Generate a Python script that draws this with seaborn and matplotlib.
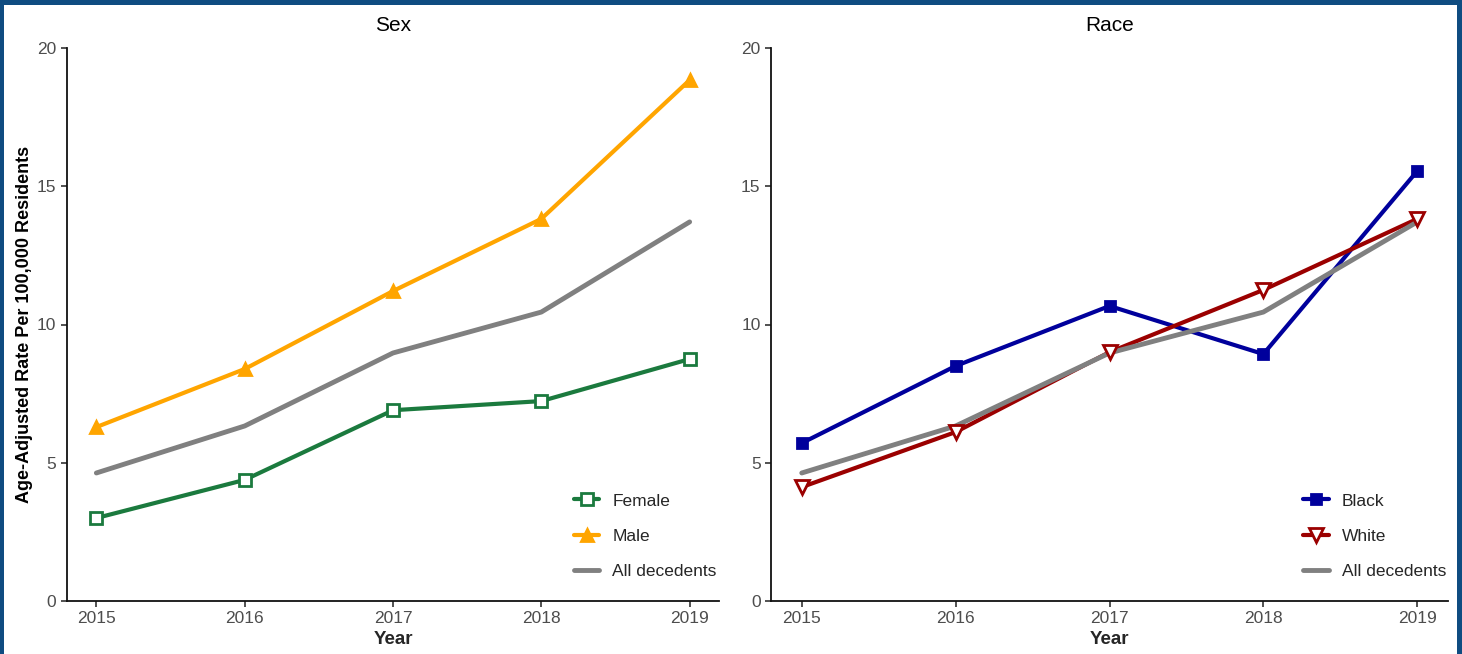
import matplotlib
matplotlib.use("Agg")
import matplotlib.pyplot as plt
import numpy as np
import pandas as pd
import seaborn as sns
from matplotlib.lines import Line2D

# data
years = [2015, 2016, 2017, 2018, 2019]
all_decedents = [4.63, 6.33, 8.97, 10.45, 13.71]
female = [3.0, 4.38, 6.9, 7.23, 8.75]
male = [6.29, 8.39, 11.21, 13.82, 18.84]
black = [5.71, 8.5, 10.67, 8.93, 15.55]
white = [4.12, 6.11, 9.0, 11.25, 13.82]

sns.set_theme(style="ticks")
plt.rcParams["font.family"] = ["Liberation Sans", "DejaVu Sans"]

GREY = "#808080"
TICK_GREY = "#4d4d4d"

fig = plt.figure(figsize=(14.62, 6.54), dpi=100)
W, H = 1462, 654
ax1 = fig.add_axes([66.7 / W, 1 - 601 / H, (719.3 - 66.7) / W, (601 - 48) / H])
ax2 = fig.add_axes([771 / W, 1 - 601 / H, (1448 - 771) / W, (601 - 48) / H])

# panel specs: (label, values, colour, marker, size, facecolour)
panels = [
    (ax1, "Sex", [
        ("Female", female, "#1b7a3e", "s", 8, "white"),
        ("Male", male, "#FFA500", "^", 9, "#FFA500"),
    ]),
    (ax2, "Race", [
        ("Black", black, "#00009c", "s", 7.5, "#00009c"),
        ("White", white, "#9b0000", "v", 10.5, "white"),
    ]),
]

for ax, title, series in panels:
    handles = []
    for name, vals, col, mk, ms, fc in series:
        df = pd.DataFrame({"Year": years, "Rate": vals})
        sns.lineplot(data=df, x="Year", y="Rate", ax=ax, color=col, lw=3, zorder=2)
        ax.plot(years, vals, ls="none", marker=mk, ms=ms, mfc=fc, mec=col, mew=2, zorder=4)
        handles.append(Line2D([], [], color=col, lw=3, marker=mk, ms=ms, mfc=fc, mec=col, mew=2, label=name))
    df_all = pd.DataFrame({"Year": years, "Rate": all_decedents})
    sns.lineplot(data=df_all, x="Year", y="Rate", ax=ax, color=GREY, lw=3.5, zorder=3)
    handles.append(Line2D([], [], color=GREY, lw=3.5, label="All decedents"))

    ax.set_xlim(2014.8, 2019.2)
    ax.set_ylim(0, 20)
    ax.set_xticks(years)
    ax.set_yticks([0, 5, 10, 15, 20])
    ax.tick_params(axis="both", colors="#333333", labelcolor=TICK_GREY, labelsize=12.5,
                   length=4, width=1.2, direction="out")
    for s in ["left", "bottom"]:
        ax.spines[s].set_linewidth(1.3)
        ax.spines[s].set_color("#111111")
    sns.despine(ax=ax)
    ax.set_title(title, fontsize=15, color="black", pad=12)
    ax.set_xlabel("Year", fontsize=13.5, fontweight="bold", labelpad=3)
    ax.set_ylabel("")
    ax.legend(handles=handles, loc="lower right", bbox_to_anchor=(1.02, 0.012), frameon=False,
              fontsize=12.5, handlelength=1.45, labelspacing=1.15, handletextpad=0.75)

ax1.set_ylabel("Age-Adjusted Rate Per 100,000 Residents", fontsize=13, fontweight="bold", color="black")
ax1.yaxis.set_label_coords(-0.052, 0.5)

# dark blue frame around the figure (top, left, right)
frame_col = "#0f4c81"
fig.add_artist(plt.Rectangle((0, 1 - 5 / H), 1, 5 / H, transform=fig.transFigure, color=frame_col, lw=0))
fig.add_artist(plt.Rectangle((0, 0), 4 / W, 1, transform=fig.transFigure, color=frame_col, lw=0))
fig.add_artist(plt.Rectangle((1 - 5 / W, 0), 5 / W, 1, transform=fig.transFigure, color=frame_col, lw=0))

fig.savefig("out.png", dpi=100)
plt.close(fig)
